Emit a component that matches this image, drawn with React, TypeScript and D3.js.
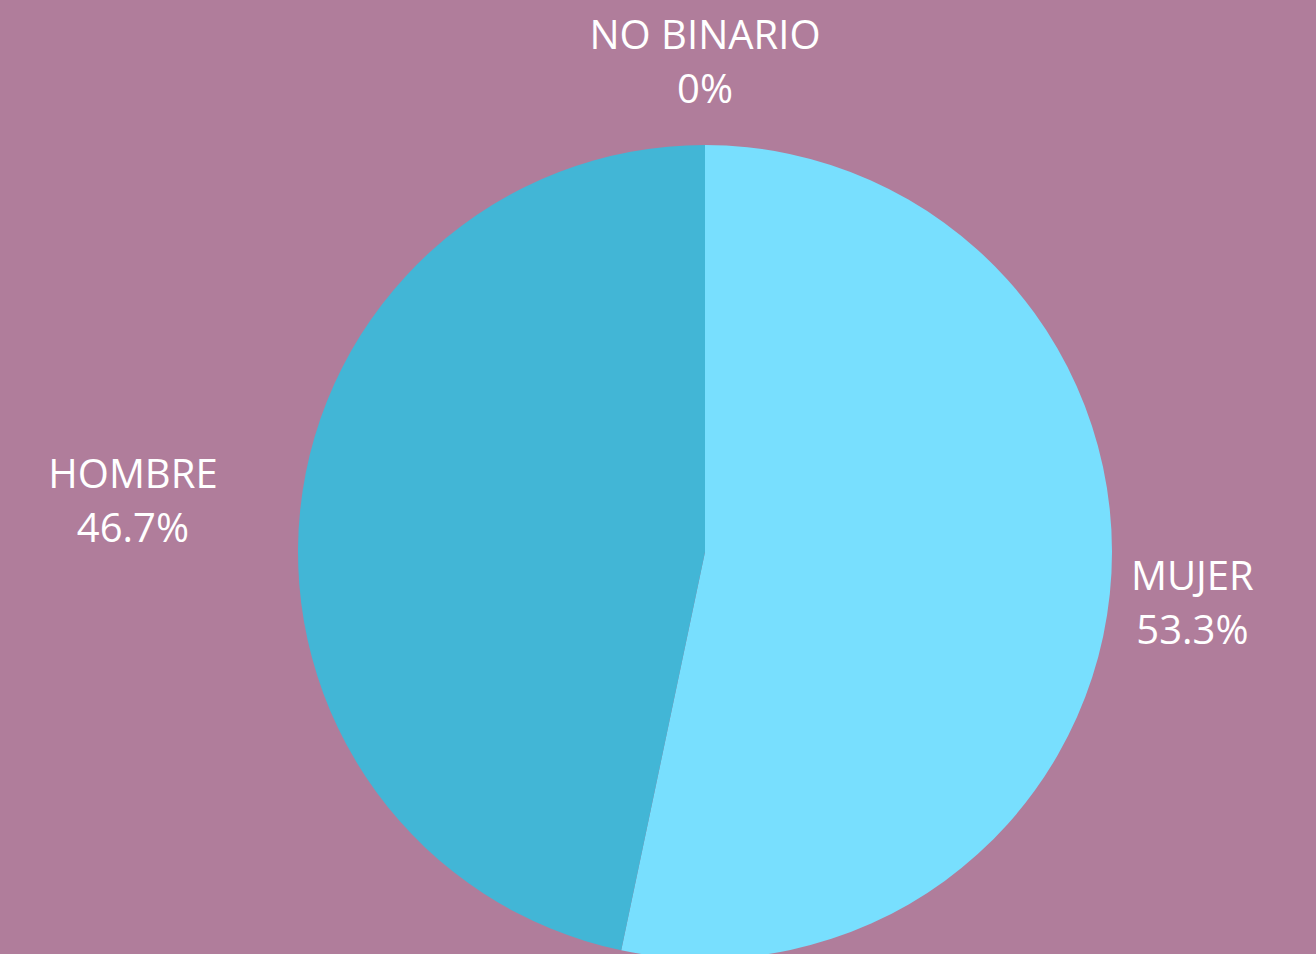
import * as d3 from "d3";
import { useEffect, useRef } from "react";

const categories = ["MUJER", "HOMBRE", "NO BINARIO"];
const values = [53.3, 46.7, 0];
const valueLabels = ["53.3%", "46.7%", "0%"];
const colors = ["#78dffe", "#42b6d6", "#d9a3c4"];

const App = () => {
    const ref = useRef<SVGSVGElement>(null);

    useEffect(() => {
        document.body.style.margin = "0";
        const width = 1316;
        const height = 954;
        const cx = 705;
        const cy = 552;
        const radius = 407;
        const labelRadius = 490;

        const svg = d3.select(ref.current);
        svg.selectChildren().remove();

        svg.append("rect")
            .attr("width", width)
            .attr("height", height)
            .attr("fill", "#b07d9b");

        const data = categories.map((c, i) => ({ name: c, value: values[i], label: valueLabels[i], color: colors[i] }));

        const pie = d3.pie<any>().sort(null).value(d => d.value);
        const arcs = pie(data);

        const arc = d3.arc<any>().innerRadius(0).outerRadius(radius);
        const labelArc = d3.arc<any>().innerRadius(labelRadius).outerRadius(labelRadius);

        const g = svg.append("g").attr("transform", `translate(${cx}, ${cy})`);

        g.selectAll("path.slice")
            .data(arcs)
            .join("path")
            .attr("class", "slice")
            .attr("fill", d => d.data.color)
            .attr("d", arc);

        // labels outside the pie; text lines centred in their block
        const labels = g.selectAll("g.label")
            .data(arcs)
            .join("g")
            .attr("class", "label")
            .attr("text-anchor", "middle")
            .style("font-family", "'Open Sans', sans-serif")
            .style("font-size", "40px")
            .attr("fill", "#ffffff");

        labels.append("text")
            .attr("y", -13)
            .text(d => d.data.name);

        labels.append("text")
            .attr("y", 41)
            .text(d => d.data.label);

        // left-side blocks end at the label radius
        labels.attr("transform", function (d) {
            const [x, y] = labelArc.centroid(d);
            let shift = 0;
            if (x < -1) {
                const w = d3.max(d3.select(this).selectAll<SVGTextElement, any>("text").nodes(), n => n.getComputedTextLength()) || 0;
                shift = -w / 2;
            }
            return `translate(${x + shift}, ${y})`;
        });
    }, []);

    return (
        <svg ref={ref} width={1316} height={954} style={{ display: "block" }}></svg>
    );
};

export default App;
